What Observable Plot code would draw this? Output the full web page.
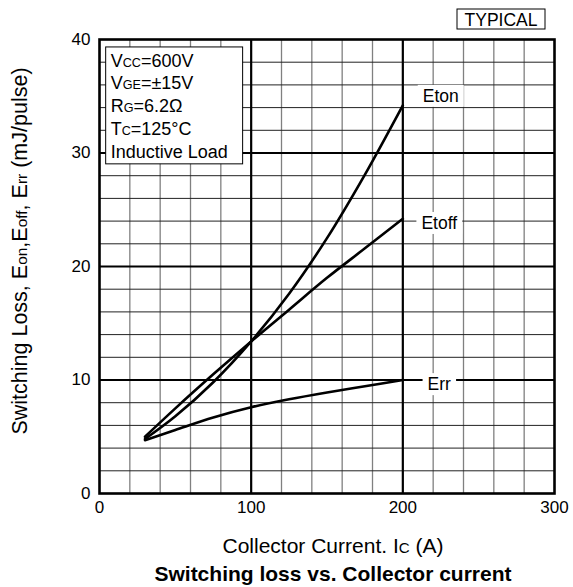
<!DOCTYPE html>
<html><head><meta charset="utf-8">
<script src="https://cdn.jsdelivr.net/npm/d3@7"></script>
<script src="https://cdn.jsdelivr.net/npm/@observablehq/plot@0.6"></script>
<style>
body{margin:0;background:#fff;}
svg{font-family:"Liberation Sans",Arial,Helvetica,sans-serif;}
</style></head><body><div id="chart"></div>
<script>
// ---- data ----
const xTicks = [0, 100, 200, 300];
const yTicks = [0, 10, 20, 30, 40];
const xMinor = [20, 40, 60, 80, 120, 140, 160, 180, 220, 240, 260, 280];
const yMinor = [2, 4, 6, 8, 12, 14, 16, 18, 22, 24, 26, 28, 32, 34, 36, 38];
const xMajor = [100, 200];
const yMajor = [10, 20, 30];
const current = [30, 50, 75, 100, 125, 150, 175, 200];
const eton  = [4.8, 6.8, 9.8, 13.4, 17.6, 22.5, 28.1, 34.2];
const etoff = [5.0, 7.5, 10.5, 13.4, 16.2, 19.0, 21.6, 24.2];
const err   = [4.7, 5.6, 6.7, 7.6, 8.3, 8.9, 9.45, 10.0];
const seriesNames = ["Eton", "Etoff", "Err"];
const labelX = [225, 224, 224];
const labelY = [35, 23.8, 9.6];
const conditionLines = [
  [["V", 0], ["CC", 1], ["=600V", 0]],
  [["V", 0], ["GE", 1], ["=\u00B115V", 0]],
  [["R", 0], ["G", 1], ["=6.2\u03A9", 0]],
  [["T", 0], ["C", 1], ["=125\u00B0C", 0]],
  [["Inductive Load", 0]]
];
const conditionBox = {x1: 4.4, x2: 94.7, y1: 29.0, y2: 39.3};
const yLabelParts = [["Switching Loss, E", 0], ["on", 1], [",E", 0], ["off", 1], [", E", 0], ["rr", 1], [" (mJ/pulse)", 0]];
const xLabelParts = [["Collector Current. I", 0], ["C", 1], [" (A)", 0]];
const titleText = "Switching loss vs. Collector current";
const badgeText = "TYPICAL";

// ---- build ----
const seriesValues = [eton, etoff, err];
const rows = [];
seriesValues.forEach((vals, k) => vals.forEach((v, i) => rows.push({x: current[i], y: v, series: seriesNames[k]})));
const labels = seriesNames.map((n, i) => ({name: n, x: labelX[i], y: labelY[i]}));

const FS = 17;
const svgEl = Plot.plot({
  width: 573, height: 587,
  marginTop: 39, marginRight: 19, marginBottom: 94, marginLeft: 99,
  style: {fontSize: FS + "px", fontFamily: '"Liberation Sans",Arial,sans-serif', color: "#000", background: "#fff"},
  x: {domain: [0, 300]},
  y: {domain: [0, 40]},
  marks: [
    Plot.ruleX(xMinor, {stroke: "#808080", strokeWidth: 1.3}),
    Plot.ruleY(yMinor, {stroke: "#222", strokeWidth: 1}),
    Plot.ruleX(xMajor, {stroke: "#000", strokeWidth: 2.2}),
    Plot.ruleY(yMajor, {stroke: "#000", strokeWidth: 2.2}),
    Plot.rect([conditionBox], {x1: "x1", x2: "x2", y1: "y1", y2: "y2", fill: "#fff", stroke: "#000", strokeWidth: 1}),
    Plot.line(rows, {x: "x", y: "y", z: "series", curve: "catmull-rom", stroke: "#000", strokeWidth: 2.6}),
    Plot.text(labels, {x: "x", y: "y", text: "name", fontSize: 17.5, fill: "#000", className: "curve-label"}),
    Plot.frame({stroke: "#000", strokeWidth: 2.6}),
    Plot.axisX(xTicks, {tickSize: 0, tickPadding: 7, fontSize: FS, label: null}),
    Plot.axisY(yTicks, {tickSize: 0, tickPadding: 9, fontSize: FS, label: null})
  ]
});
document.getElementById("chart").appendChild(svgEl);

const svg = d3.select(svgEl);
const xs = svgEl.scale("x"), ys = svgEl.scale("y");

// white boxes behind curve labels
svg.selectAll("g.curve-label text").each(function() {
  const b = this.getBBox();
  const cy = b.y + b.height / 2;
  d3.select(this.parentNode).insert("rect", () => this)
    .attr("transform", this.getAttribute("transform"))
    .attr("x", b.x - 5).attr("y", cy - 11).attr("width", b.width + 10).attr("height", 22)
    .attr("fill", "#fff");
});

function rich(sel, parts, size, subScale) {
  parts.forEach(([t, sub]) => sel.append("tspan").attr("font-size", sub ? size * subScale : size).text(t));
}

// condition box text
const LFS = 18;
const bx = xs.apply(conditionBox.x1), by = ys.apply(conditionBox.y2);
conditionLines.forEach((line, i) => {
  const t = svg.append("text").attr("x", bx + 5).attr("y", by + 19.8 + i * 22.7)
    .attr("text-anchor", "start").attr("font-size", LFS).attr("fill", "#000");
  rich(t, line, LFS, 0.7);
});

// y label
const yl = svg.append("text").attr("transform", "translate(27,251) rotate(-90)")
  .attr("text-anchor", "middle").attr("font-size", 21.5).attr("fill", "#000");
rich(yl, yLabelParts, 21.5, 0.72);

// x label
const xl = svg.append("text").attr("x", 333).attr("y", 552.5)
  .attr("text-anchor", "middle").attr("font-size", 21).attr("fill", "#000");
rich(xl, xLabelParts, 21, 0.72);

// title
svg.append("text").attr("x", 333).attr("y", 580.5).attr("text-anchor", "middle")
  .attr("font-size", 21).attr("font-weight", "bold").attr("fill", "#000").text(titleText);

// badge
svg.append("rect").attr("x", 457).attr("y", 9).attr("width", 88).attr("height", 20)
  .attr("fill", "#fff").attr("stroke", "#000").attr("stroke-width", 1);
svg.append("text").attr("x", 501).attr("y", 25.5).attr("text-anchor", "middle")
  .attr("font-size", 17.5).attr("fill", "#000").text(badgeText);
</script></body></html>
